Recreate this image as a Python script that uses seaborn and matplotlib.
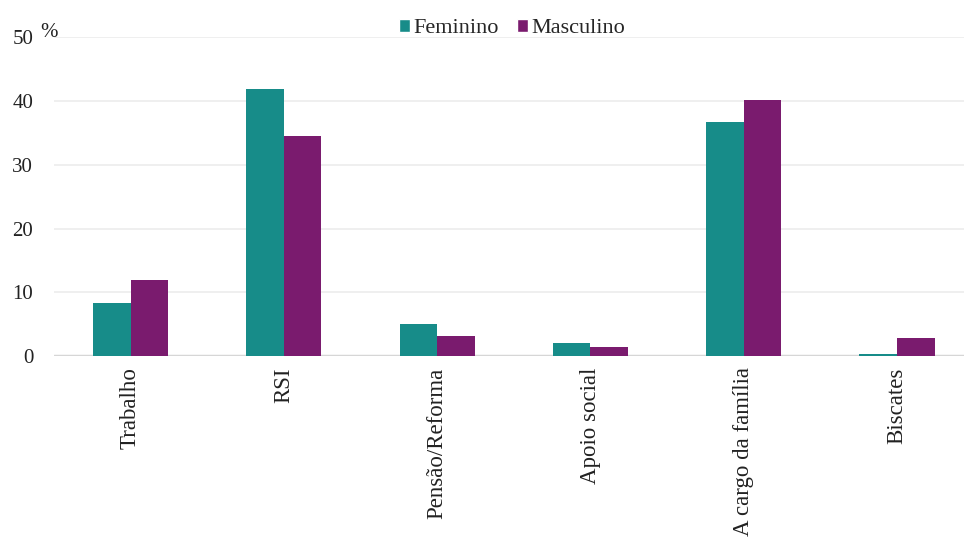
import pandas as pd
import numpy as np
import seaborn as sns
import matplotlib.pyplot as plt
from matplotlib.patches import Patch

categorias = ['Trabalho', 'RSI', 'Pensão/Reforma', 'Apoio social', 'A cargo da família', 'Biscates']
feminino = [8.4, 41.9, 5.0, 2.1, 36.7, 0.4]
masculino = [11.9, 34.5, 3.1, 1.4, 40.1, 2.9]
grupos = ['Feminino', 'Masculino']
cores = ['#178c89', '#7a1b6e']

df = pd.DataFrame({
    'categoria': categorias * 2,
    'valor': feminino + masculino,
    'sexo': [grupos[0]] * len(categorias) + [grupos[1]] * len(categorias),
})

sns.set_style('white')
plt.rcParams['font.family'] = ['Liberation Serif', 'DejaVu Serif']

fig = plt.figure(figsize=(9.64, 5.38), dpi=100)
ax = fig.add_axes([0.056, 0.338, 0.954, 0.593])

sns.barplot(data=df, x='categoria', y='valor', hue='sexo', palette=cores,
            width=0.49, ax=ax, legend=False, saturation=1, linewidth=0)

ax.set_ylim(0, 50)
ax.set_xlim(-0.5, 5.5)
ax.set_yticks([0, 10, 20, 30, 40, 50])
ax.set_yticklabels(['0', '10', '20', '30', '40', '50'])
for y in [10, 20, 30, 40, 50]:
    ax.axhline(y, color='#ececec', lw=1.2, zorder=0)
ax.axhline(0, color='#d6d6d6', lw=2.5, zorder=0)
ax.set_axisbelow(True)
for s in ax.spines.values():
    s.set_visible(False)

ax.tick_params(axis='y', length=0, labelsize=15, pad=15, labelcolor='#222222')
ax.tick_params(axis='x', length=0, labelsize=16.5, pad=8, labelcolor='#222222')
plt.setp(ax.get_xticklabels(), rotation=90, va='top', ha='center')
ax.set_xlabel('')
ax.set_ylabel('')
fig.text(0.042, 0.922, '%', fontsize=15, color='#222222', ha='left', va='bottom')

handles = [Patch(facecolor=c, label=g) for c, g in zip(cores, grupos)]
fig.legend(handles=handles, loc='center', bbox_to_anchor=(0.531, 0.947), ncol=2,
           frameon=False, fontsize=16, handlelength=0.5, handleheight=0.5,
           handletextpad=0.15, columnspacing=0.8)

fig.savefig('out.png', dpi=100)
